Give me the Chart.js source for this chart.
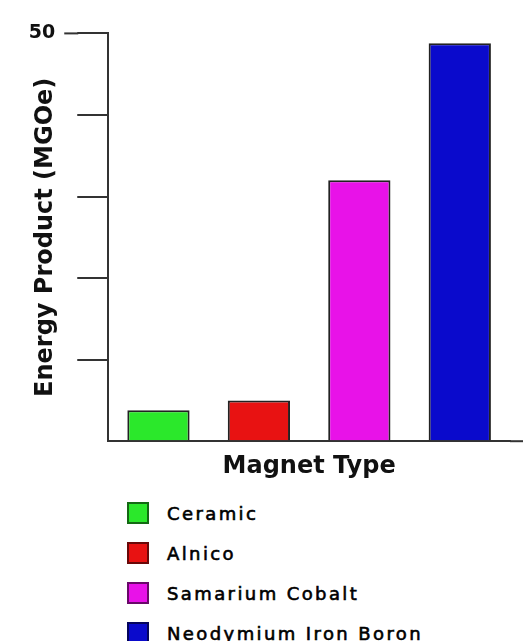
<!DOCTYPE html>
<html>
<head>
<meta charset="utf-8">
<script src="https://cdn.jsdelivr.net/npm/chart.js@4/dist/chart.umd.min.js"></script>
<style>
  html, body { margin: 0; padding: 0; background: #ffffff; width: 523px; height: 641px; overflow: hidden; }
  #wrap { position: relative; width: 523px; height: 641px; }
  #c { position: absolute; left: 0; top: 0; }
  #legend { position: absolute; left: 127px; top: 493px; margin: 0; padding: 0; list-style: none; }
  #legend li { height: 40px; display: flex; align-items: center; }
  #legend .box { width: 18px; height: 18px; border: 2px solid rgba(0,0,0,0.55); margin-right: 18px; flex: none; }
  #legend .txt { font-family: "DejaVu Sans", sans-serif; font-size: 18px; letter-spacing: 2.4px; color: #000; white-space: nowrap; -webkit-text-stroke: 0.6px #000; }
</style>
</head>
<body>
<div id="wrap">
  <canvas id="c" width="523" height="490"></canvas>
  <ul id="legend"></ul>
</div>
<script>
const categories = ["Ceramic", "Alnico", "Samarium Cobalt", "Neodymium Iron Boron"];
const energyProduct = [3.8, 5.0, 32.0, 48.8];
const barColors = ["#2be82b", "#e81212", "#e812e8", "#0a0acc"];
const yTickLabels = { 50: "50" };
const yAxisTitle = "Energy Product (MGOe)";
const xAxisTitle = "Magnet Type";

const axisColor = "#333333";

const axisExtras = {
  id: "axisExtras",
  afterDraw(chart) {
    const { ctx, chartArea, scales } = chart;
    const y = scales.y;
    const tl = y.options.grid.tickLength;
    ctx.save();
    ctx.strokeStyle = axisColor;
    ctx.lineWidth = 2;
    const py0 = y.getPixelForValue(0);
    ctx.beginPath();
    ctx.moveTo(chartArea.right, py0);
    ctx.lineTo(chart.width, py0);
    ctx.stroke();
    const pyMax = y.getPixelForValue(y.max);
    ctx.beginPath();
    ctx.moveTo(chartArea.left - tl - 13, pyMax);
    ctx.lineTo(chartArea.left - tl + 1, pyMax);
    ctx.stroke();
    ctx.restore();
  }
};

Chart.defaults.font.family = "'DejaVu Sans', sans-serif";
Chart.defaults.color = "#111";

new Chart(document.getElementById("c"), {
  type: "bar",
  data: {
    labels: categories,
    datasets: [{
      label: yAxisTitle,
      data: energyProduct,
      backgroundColor: barColors,
      borderColor: "#222222",
      borderWidth: 2,
      categoryPercentage: 1.0,
      barPercentage: 0.62
    }]
  },
  options: {
    responsive: false,
    animation: false,
    devicePixelRatio: 1,
    layout: { padding: { top: 33, right: 13, bottom: 0, left: 0 } },
    plugins: {
      legend: { display: false },
      tooltip: { enabled: false }
    },
    scales: {
      x: {
        grid: { display: false, drawTicks: false },
        border: { display: true, color: axisColor, width: 2 },
        ticks: { display: false },
        title: {
          display: true,
          text: xAxisTitle,
          color: "#111",
          font: { size: 24, weight: "bold" },
          padding: { top: 11, bottom: 9 }
        }
      },
      y: {
        min: 0,
        max: 50,
        afterFit: (scale) => { scale.width -= scale.options.ticks.padding; },
        border: { display: true, color: axisColor, width: 2 },
        grid: {
          drawOnChartArea: false,
          drawTicks: true,
          tickLength: 31,
          lineWidth: 2,
          color: (ctx) => (ctx.tick && ctx.tick.value === 0 ? "rgba(0,0,0,0)" : axisColor)
        },
        ticks: {
          stepSize: 10,
          padding: 22,
          color: "#111",
          font: { size: 19, weight: "bold" },
          callback: (v) => (yTickLabels[v] !== undefined ? yTickLabels[v] : "")
        },
        title: {
          display: true,
          text: yAxisTitle,
          color: "#111",
          font: { size: 24, weight: "bold" },
          padding: { top: 31, bottom: -31 }
        }
      }
    }
  },
  plugins: [axisExtras]
});

const legendEl = document.getElementById("legend");
categories.forEach((name, i) => {
  const li = document.createElement("li");
  const box = document.createElement("span");
  box.className = "box";
  box.style.background = barColors[i];
  const txt = document.createElement("span");
  txt.className = "txt";
  txt.textContent = name;
  li.appendChild(box);
  li.appendChild(txt);
  legendEl.appendChild(li);
});
</script>
</body>
</html>
